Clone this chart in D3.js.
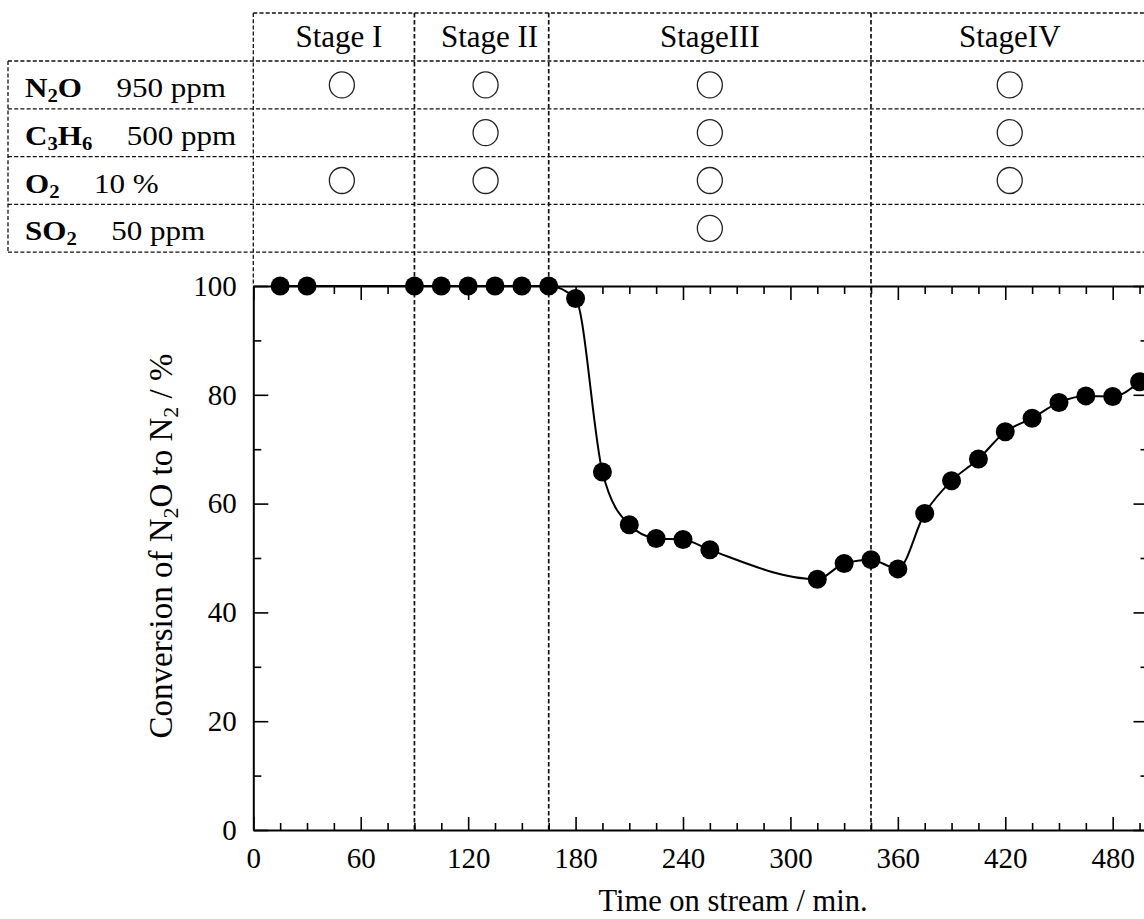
<!DOCTYPE html>
<html>
<head>
<meta charset="utf-8">
<script src="https://cdn.jsdelivr.net/npm/d3@7"></script>
<style>
  body { margin: 0; background: #fff; }
  svg { display: block; }
  text { font-family: "Liberation Serif", "Times New Roman", serif; fill: #000; }
</style>
</head>
<body>
<svg id="chart" width="1144" height="919"></svg>
<script>
// Time on stream (min) and N2O conversion to N2 (%)
const times = [15, 30, 90, 105, 120, 135, 150, 165, 180, 195, 210, 225, 240, 255,
               315, 330, 345, 360, 375, 390, 405, 420, 435, 450, 465, 480, 495];
const conversion = [100, 100, 100, 100, 100, 100, 100, 100, 97.7, 65.8, 56.1, 53.6, 53.4, 51.5,
                    46.1, 49.0, 49.7, 48.0, 58.2, 64.2, 68.2, 73.2, 75.7, 78.6, 79.8, 79.7, 82.4];

// Reaction stages and their boundaries on the time axis (min)
const stageNames = ["Stage I", "Stage II", "StageIII", "StageIV"];
const stageBounds = [0, 90, 165, 345, 500];

// Feed gas composition table: formula, concentration, fed in each stage (1 = yes)
const gasFormulas = ["N2O", "C3H6", "O2", "SO2"];
const gasAmounts = ["950 ppm", "500 ppm", "10 %", "50 ppm"];
const gasFed = [
  [1, 1, 1, 1],
  [0, 1, 1, 1],
  [1, 1, 1, 1],
  [0, 0, 1, 0]
];

// Axis ticks
const xMajorTicks = [0, 60, 120, 180, 240, 300, 360, 420, 480];
const xMinorTicks = [15, 30, 45, 75, 90, 105, 135, 150, 165, 195, 210, 225, 255, 270, 285,
                     315, 330, 345, 375, 390, 405, 435, 450, 465, 495];
const yMajorTicks = [0, 20, 40, 60, 80, 100];
const yMinorTicks = [10, 30, 50, 70, 90];

const svg = d3.select("#chart");
const x = d3.scaleLinear().domain([0, 500]).range([253.3, 1148.5]);
const y = d3.scaleLinear().domain([0, 100]).range([830, 286]);

// ---- composition table ----
const tableTop = 13;
const rowTop0 = 61;
const rowH = 47.8;
const labelLeft = 8;
const rowY = i => rowTop0 + i * rowH;

const grid = svg.append("g")
  .attr("fill", "none")
  .attr("stroke", "#111")
  .attr("stroke-width", 1.3)
  .attr("stroke-dasharray", "4,2.2");

grid.append("line")
  .attr("x1", x(0)).attr("x2", x(500))
  .attr("y1", tableTop).attr("y2", tableTop);

d3.range(gasFormulas.length + 1).forEach(i => {
  grid.append("line")
    .attr("x1", labelLeft).attr("x2", x(500))
    .attr("y1", rowY(i)).attr("y2", rowY(i));
});

grid.append("line")
  .attr("x1", labelLeft).attr("x2", labelLeft)
  .attr("y1", rowY(0)).attr("y2", rowY(gasFormulas.length));

grid.append("line")
  .attr("x1", x(0)).attr("x2", x(0))
  .attr("y1", tableTop).attr("y2", y(100));

// stage boundaries run from the table header down to the time axis
stageBounds.slice(1, -1).forEach(b => {
  grid.append("line")
    .attr("x1", x(b)).attr("x2", x(b))
    .attr("y1", tableTop).attr("y2", y(0))
    .attr("stroke-width", 1.7)
    .attr("stroke-dasharray", "4.5,2.5");
});

const stageCenter = j => (x(stageBounds[j]) + x(stageBounds[j + 1])) / 2;

// stage headers
svg.append("g").selectAll("text")
  .data(stageNames)
  .join("text")
  .attr("x", (d, j) => stageCenter(j) + (j === 0 ? 5 : j === 1 ? 8 : 0))
  .attr("y", 46.7)
  .attr("text-anchor", "middle")
  .attr("font-size", 31)
  .text(d => d);

// gas labels (digits in formulas drawn as subscripts)
const labels = svg.append("g");
gasFormulas.forEach((f, i) => {
  const t = labels.append("text")
    .attr("transform", `translate(25,${rowY(i) + 36}) scale(1.15,1)`)
    .attr("font-size", 27);
  let sub = false;
  for (const ch of f) {
    const isDigit = /[0-9]/.test(ch);
    const ts = t.append("tspan").attr("font-weight", "bold").text(ch);
    if (isDigit) {
      ts.attr("font-size", 18).attr("dy", sub ? 0 : 5);
      sub = true;
    } else {
      ts.attr("font-size", 27).attr("dy", sub ? -5 : 0);
      sub = false;
    }
  }
  t.append("tspan")
    .attr("dx", 30)
    .attr("dy", sub ? -5 : 0)
    .attr("font-size", 27)
    .text(gasAmounts[i]);
});

// open circles marking which gases are fed in each stage
const marks = [];
gasFed.forEach((row, i) => row.forEach((on, j) => { if (on) marks.push({ i, j }); }));
svg.append("g").selectAll("ellipse")
  .data(marks)
  .join("ellipse")
  .attr("cx", d => stageCenter(d.j) + (d.j === 0 ? 8 : d.j === 1 ? 4 : 0))
  .attr("cy", d => rowY(d.i) + rowH / 2)
  .attr("rx", 12.5)
  .attr("ry", 13)
  .attr("fill", "none")
  .attr("stroke", "#222")
  .attr("stroke-width", 1.3);

// ---- axes ----
function styleAxis(g, withDomain) {
  g.attr("font-family", null).attr("font-size", null);
  g.selectAll(".tick line").attr("stroke", "#000").attr("stroke-width", 1.6);
  if (withDomain) {
    g.select(".domain").attr("stroke", "#000").attr("stroke-width", 2);
  } else {
    g.select(".domain").remove();
  }
  g.selectAll(".tick text").attr("font-size", 29).attr("font-family", "Liberation Serif, serif");
}

svg.append("g")
  .attr("transform", `translate(0,${y(0)})`)
  .call(d3.axisBottom(x).tickValues(xMajorTicks).tickSize(-13).tickSizeOuter(0).tickPadding(17))
  .call(g => styleAxis(g, true));
svg.append("g")
  .attr("transform", `translate(0,${y(0)})`)
  .call(d3.axisBottom(x).tickValues(xMinorTicks).tickSize(-7).tickSizeOuter(0).tickFormat(""))
  .call(g => styleAxis(g, false));

svg.append("g")
  .attr("transform", `translate(0,${y(100)})`)
  .call(d3.axisTop(x).tickValues(xMajorTicks).tickSize(-14).tickSizeOuter(0).tickFormat(""))
  .call(g => styleAxis(g, true));
svg.append("g")
  .attr("transform", `translate(0,${y(100)})`)
  .call(d3.axisTop(x).tickValues(xMinorTicks).tickSize(-8).tickSizeOuter(0).tickFormat(""))
  .call(g => styleAxis(g, false));

svg.append("g")
  .attr("transform", `translate(${x(0)},0)`)
  .call(d3.axisLeft(y).tickValues(yMajorTicks).tickSize(-15).tickSizeOuter(0).tickPadding(16.6))
  .call(g => styleAxis(g, true));
svg.append("g")
  .attr("transform", `translate(${x(0)},0)`)
  .call(d3.axisLeft(y).tickValues(yMinorTicks).tickSize(-8).tickSizeOuter(0).tickFormat(""))
  .call(g => styleAxis(g, false));

svg.append("g")
  .attr("transform", `translate(${x(500)},0)`)
  .call(d3.axisRight(y).tickValues(yMajorTicks).tickSize(-15).tickSizeOuter(0).tickFormat(""))
  .call(g => styleAxis(g, true));
svg.append("g")
  .attr("transform", `translate(${x(500)},0)`)
  .call(d3.axisRight(y).tickValues(yMinorTicks).tickSize(-8).tickSizeOuter(0).tickFormat(""))
  .call(g => styleAxis(g, false));

// axis titles
svg.append("text")
  .attr("x", 733)
  .attr("y", 911)
  .attr("text-anchor", "middle")
  .attr("font-size", 30.5)
  .text("Time on stream / min.");

const yTitle = svg.append("text")
  .attr("transform", "translate(172,546) rotate(-90)")
  .attr("text-anchor", "middle")
  .attr("font-size", 33);
yTitle.append("tspan").text("Conversion of N");
yTitle.append("tspan").attr("font-size", 22).attr("dy", 6).text("2");
yTitle.append("tspan").attr("dy", -6).text("O to N");
yTitle.append("tspan").attr("font-size", 22).attr("dy", 6).text("2");
yTitle.append("tspan").attr("dy", -6).text(" / %");

// ---- data ----
const points = times.map((t, i) => ({ t, v: conversion[i] }));

svg.append("path")
  .datum(points)
  .attr("fill", "none")
  .attr("stroke", "#000")
  .attr("stroke-width", 2)
  .attr("d", d3.line().x(d => x(d.t)).y(d => y(d.v)).curve(d3.curveMonotoneX));

svg.append("g").selectAll("circle")
  .data(points)
  .join("circle")
  .attr("cx", d => x(d.t))
  .attr("cy", d => y(d.v))
  .attr("r", 9.5)
  .attr("fill", "#000");
</script>
</body>
</html>
